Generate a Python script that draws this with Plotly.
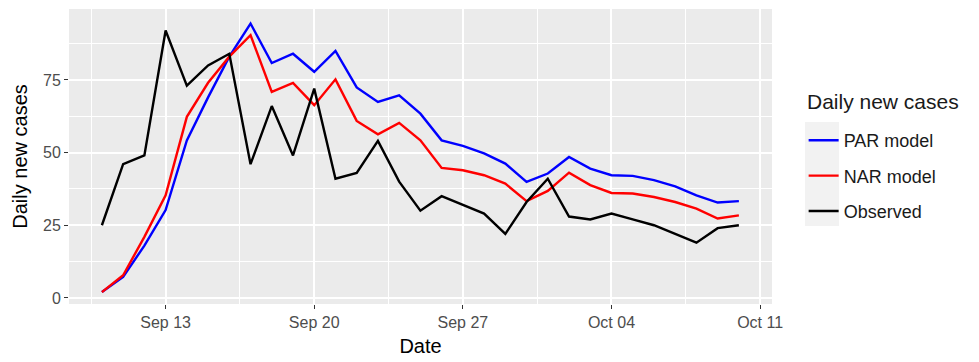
import pandas as pd
import plotly.graph_objects as go

# Daily series, 10 Sep - 10 Oct
dates = pd.date_range("2020-09-10", "2020-10-10", freq="D")

par_model = [2, 7.2, 18, 30.2, 54.2, 69, 83, 94.4, 80.8, 84, 77.8, 85, 72.4,
             67.4, 69.7, 63.4, 54.2, 52.3, 49.7, 46.2, 39.9, 42.8, 48.5, 44.5,
             42.2, 42, 40.5, 38.4, 35.3, 32.8, 33.3]
nar_model = [2, 7.8, 21, 35.3, 62.3, 74, 83, 90.4, 70.9, 74, 66.3, 75.2, 60.9,
             56.3, 60.2, 54.2, 44.7, 43.9, 42.2, 39.3, 33.3, 36.8, 43.1, 38.8,
             36.1, 35.9, 34.7, 33, 30.7, 27.3, 28.4]
observed = [25, 46, 49, 92, 73, 80, 84, 46, 66, 49, 72, 41, 43,
            54, 40, 30, 35, 32, 29, 22, 33, 41, 28, 27,
            29, 27, 25, 22, 19, 24, 25]

series = [("PAR model", par_model, "#0000FF"),
          ("NAR model", nar_model, "#FF0000"),
          ("Observed", observed, "#000000")]

x_ticks = pd.to_datetime(["2020-09-13", "2020-09-20", "2020-09-27",
                          "2020-10-04", "2020-10-11"])
x_minor = pd.to_datetime(["2020-09-09 12:00", "2020-09-16 12:00",
                          "2020-09-23 12:00", "2020-09-30 12:00",
                          "2020-10-07 12:00"])
y_ticks = [0, 25, 50, 75]
y_minor = [12.5, 37.5, 62.5, 87.5]

fig = go.Figure()
for i, (name, vals, color) in enumerate(series):
    fig.add_trace(go.Scatter(
        x=dates, y=vals, mode="lines", name=name, legendgroup=f"g{i}",
        line=dict(color=color, width=2.4),
    ))

font_family = "Liberation Sans, Arial, sans-serif"
fig.update_layout(
    width=979, height=362,
    margin=dict(l=69, r=207, t=9, b=58),
    paper_bgcolor="white",
    plot_bgcolor="#EBEBEB",
    font=dict(family=font_family, color="#000000"),
    showlegend=True,
    legend=dict(
        font=dict(size=18, color="#1a1a1a"),
        x=1.045, xanchor="left", y=0.617, yanchor="top",
        bgcolor="rgba(0,0,0,0)", tracegroupgap=9,
    ),
    xaxis=dict(
        range=["2020-09-08 10:48", "2020-10-11 13:26"],
        tickvals=x_ticks, tickformat="%b %d",
        tickfont=dict(size=16, color="#4D4D4D"),
        ticks="outside", ticklen=4, tickcolor="#333333", tickwidth=1,
        showgrid=True, gridcolor="white", gridwidth=1.6,
        minor=dict(tickvals=x_minor, showgrid=True, gridcolor="white",
                   gridwidth=0.8, ticklen=0),
        zeroline=False, showline=False,
        title=dict(text="Date", font=dict(size=20), standoff=8),
    ),
    yaxis=dict(
        range=[-2.1, 99.4],
        tickvals=y_ticks,
        tickfont=dict(size=16, color="#4D4D4D"),
        ticks="outside", ticklen=4, tickcolor="#333333", tickwidth=1,
        showgrid=True, gridcolor="white", gridwidth=1.6,
        minor=dict(tickvals=y_minor, showgrid=True, gridcolor="white",
                   gridwidth=0.8, ticklen=0),
        zeroline=False, showline=False,
        title=dict(text="Daily new cases", font=dict(size=20), standoff=10),
    ),
)

# Legend heading
fig.add_annotation(text="Daily new cases", xref="paper", yref="paper",
                   x=1.047, y=0.685, xanchor="left", yanchor="middle",
                   showarrow=False, font=dict(size=21, color="#1a1a1a"))

# Grey background behind the legend keys
fig.add_shape(type="rect", xref="paper", yref="paper",
              x0=1.047, x1=1.0953, y0=0.264, y1=0.617,
              fillcolor="#F2F2F2", line=dict(width=0), layer="below")

fig.write_html("out.html")
